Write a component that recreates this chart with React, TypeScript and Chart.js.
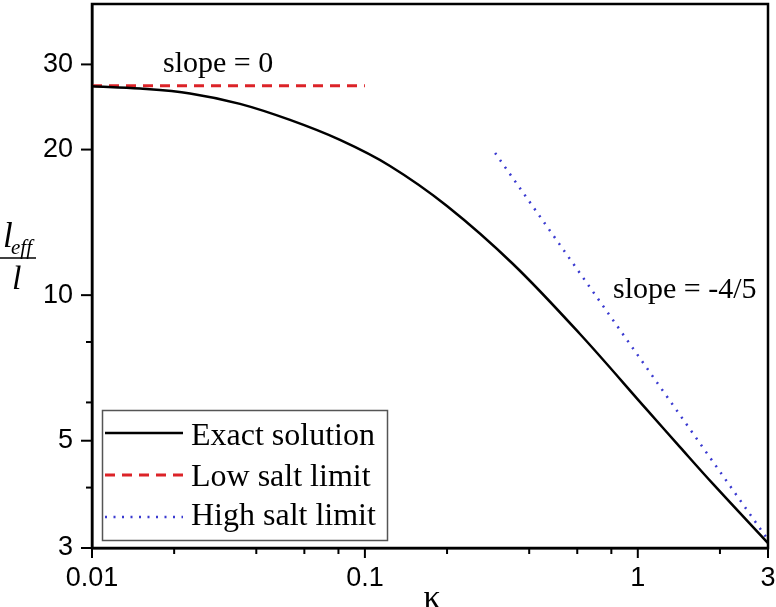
import React, { useEffect, useRef } from "react";
import { Chart, registerables } from "chart.js";

Chart.register(...registerables);

// Exact solution (kappa, l_eff / l)
const exactKappa = [0.01, 0.015, 0.02286, 0.03486, 0.05315, 0.08104, 0.1236, 0.1999, 0.3489, 0.614, 1.081, 1.428, 1.886, 3];
const exactValue = [27.05, 26.74, 26.13, 24.86, 23.03, 20.94, 18.5, 15.29, 11.6, 8.31, 5.79, 4.85, 4.07, 3.07];

// Low salt limit (slope = 0)
const lowKappa = [0.01, 0.1];
const lowValue = [27.1, 27.1];

// High salt limit (slope = -4/5)
const highKappa = [0.3, 3];
const highValue = [19.68, 3.12];

// Axis ticks
const xTickValues = [0.01, 0.02, 0.04, 0.06, 0.08, 0.1, 0.2, 0.4, 0.6, 0.8, 1, 2, 3];
const xLabelValues = [0.01, 0.1, 1, 3];
const yTickValues = [3, 4, 5, 6, 8, 10, 20, 30];
const yLabelValues = [3, 5, 10, 20, 30];

const seriesLabels = ["Exact solution", "Low salt limit", "High salt limit"];

const SERIF = "'Liberation Serif', 'Times New Roman', serif";
const SANS = "'Liberation Sans', Arial, sans-serif";

const RED = "#dc2328";
const BLUE = "#3a3ad0";

const toPoints = (xs: number[], ys: number[]) => xs.map((x, i) => ({ x, y: ys[i] }));

const decorPlugin = {
  id: "decor",
  afterDraw(chart: any) {
    const { ctx, chartArea, scales } = chart;
    const { left, right, top, bottom } = chartArea;
    const xs = scales.x;
    const ys = scales.y;
    ctx.save();

    // frame
    ctx.strokeStyle = "#000";
    ctx.lineWidth = 2.5;
    ctx.setLineDash([]);
    ctx.strokeRect(left, top, right - left, bottom - top);

    // tick marks
    ctx.lineWidth = 2;
    xTickValues.forEach((v) => {
      const px = xs.getPixelForValue(v);
      const len = xLabelValues.includes(v) ? 10 : 6;
      ctx.beginPath();
      ctx.moveTo(px, bottom);
      ctx.lineTo(px, bottom + len);
      ctx.stroke();
    });
    yTickValues.forEach((v) => {
      const py = ys.getPixelForValue(v);
      const len = yLabelValues.includes(v) ? 11 : 6;
      ctx.beginPath();
      ctx.moveTo(left, py);
      ctx.lineTo(left - len, py);
      ctx.stroke();
    });

    // annotations
    ctx.fillStyle = "#000";
    ctx.textAlign = "left";
    ctx.textBaseline = "alphabetic";
    ctx.font = `30px ${SERIF}`;
    ctx.fillText("slope = 0", 163, 72);
    ctx.fillText("slope = -4/5", 613, 298);

    // x axis title
    ctx.font = `34px ${SERIF}`;
    ctx.textAlign = "center";
    ctx.fillText("κ", (left + right) / 2 + 2, 608);

    // y axis title: l_eff / l
    ctx.textAlign = "left";
    ctx.font = `italic 35px ${SERIF}`;
    ctx.fillText("l", 3, 247);
    ctx.font = `italic 21px ${SERIF}`;
    ctx.fillText("eff", 11, 254);
    ctx.lineWidth = 1.5;
    ctx.beginPath();
    ctx.moveTo(0, 258);
    ctx.lineTo(36, 258);
    ctx.stroke();
    ctx.font = `italic 34px ${SERIF}`;
    ctx.fillText("l", 12, 289);

    // legend
    ctx.strokeStyle = "#555";
    ctx.lineWidth = 1.5;
    ctx.strokeRect(102.5, 410.5, 285, 130);
    const rows = [
      { y: 433, color: "#000", dash: [] as number[], width: 2.5, base: 445 },
      { y: 475, color: RED, dash: [10, 7], width: 3, base: 486 },
      { y: 517, color: BLUE, dash: [2, 6.5], width: 2.5, base: 525 },
    ];
    rows.forEach((r, i) => {
      ctx.strokeStyle = r.color;
      ctx.lineWidth = r.width;
      ctx.setLineDash(r.dash);
      ctx.beginPath();
      ctx.moveTo(105, r.y);
      ctx.lineTo(183, r.y);
      ctx.stroke();
      ctx.setLineDash([]);
      ctx.fillStyle = "#000";
      ctx.font = `32px ${SERIF}`;
      ctx.textAlign = "left";
      ctx.fillText(seriesLabels[i], 191, r.base);
    });

    ctx.restore();
  },
};

const zeroPadding = (scale: any) => {
  scale.paddingLeft = 0;
  scale.paddingRight = 0;
  scale.paddingTop = 0;
  scale.paddingBottom = 0;
};

export default function App() {
  const canvasRef = useRef<HTMLCanvasElement | null>(null);

  useEffect(() => {
    document.body.style.margin = "0";
    const canvas = canvasRef.current;
    if (!canvas) return;
    const chart = new Chart(canvas, {
      type: "line",
      data: {
        datasets: [
          {
            label: seriesLabels[0],
            data: toPoints(exactKappa, exactValue),
            borderColor: "#000",
            borderWidth: 2.5,
            pointRadius: 0,
            tension: 0.35,
            fill: false,
          },
          {
            label: seriesLabels[1],
            data: toPoints(lowKappa, lowValue),
            borderColor: RED,
            borderWidth: 3,
            borderDash: [10, 7],
            pointRadius: 0,
            fill: false,
          },
          {
            label: seriesLabels[2],
            data: toPoints(highKappa, highValue),
            borderColor: BLUE,
            borderWidth: 2.5,
            borderDash: [2, 6.5],
            pointRadius: 0,
            fill: false,
          },
        ],
      },
      options: {
        responsive: false,
        animation: false,
        layout: { padding: { top: 4, right: 8, left: 0, bottom: 0 } },
        plugins: {
          legend: { display: false },
          tooltip: { enabled: false },
        },
        scales: {
          x: {
            type: "logarithmic",
            min: 0.01,
            max: 3,
            afterBuildTicks: (scale: any) => {
              scale.ticks = xTickValues.map((v) => ({ value: v }));
            },
            afterFit: (scale: any) => {
              scale.height = 59;
              zeroPadding(scale);
            },
            ticks: {
              autoSkip: false,
              maxRotation: 0,
              minRotation: 0,
              padding: 14,
              color: "#000",
              font: { family: SANS, size: 27 },
              callback: (value: any) => (xLabelValues.includes(Number(value)) ? String(Number(value)) : ""),
            },
            grid: { display: false, drawTicks: false },
            border: { display: true, color: "#000", width: 2.5 },
          },
          y: {
            type: "logarithmic",
            min: 3,
            max: 40,
            afterBuildTicks: (scale: any) => {
              scale.ticks = yTickValues.map((v) => ({ value: v }));
            },
            afterFit: (scale: any) => {
              scale.width = 92;
              zeroPadding(scale);
            },
            ticks: {
              autoSkip: false,
              padding: 19,
              color: "#000",
              font: { family: SANS, size: 27 },
              callback: (value: any) => (yLabelValues.includes(Number(value)) ? String(Number(value)) : ""),
            },
            grid: { display: false, drawTicks: false },
            border: { display: true, color: "#000", width: 2.5 },
          },
        },
      },
      plugins: [decorPlugin],
    } as any);
    return () => chart.destroy();
  }, []);

  return (
    <div style={{ width: 776, height: 607, position: "relative", background: "#fff" }}>
      <canvas ref={canvasRef} width={776} height={607} style={{ display: "block" }} />
    </div>
  );
}
